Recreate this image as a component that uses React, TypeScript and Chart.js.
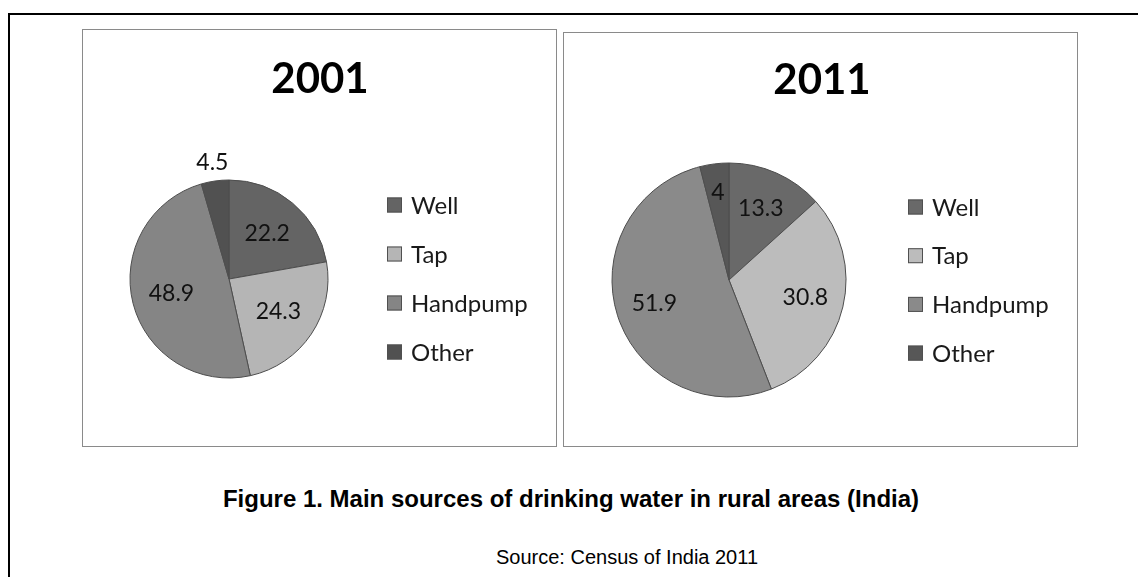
import React, { useEffect, useRef } from "react";
import { Chart, registerables } from "chart.js";

Chart.register(...registerables);

const categories = ["Well", "Tap", "Handpump", "Other"];
const values2001 = [22.2, 24.3, 48.9, 4.5];
const values2011 = [13.3, 30.8, 51.9, 4];
const years = ["2001", "2011"];
const colors2001 = ["#646464", "#b5b5b5", "#858585", "#515151"];
const colors2011 = ["#696969", "#bcbcbc", "#8a8a8a", "#575757"];
const captionText = "Figure 1. Main sources of drinking water in rural areas (India)";
const sourceText = "Source: Census of India 2011";

const FONT = "Lato, 'Open Sans', sans-serif";

const overlayPlugin = {
  id: "overlay",
  afterDatasetsDraw(chart: any, _args: any, opts: any) {
    const ctx = chart.ctx;
    const meta = chart.getDatasetMeta(0);
    const ds = chart.data.datasets[0];
    ctx.save();
    // slice value labels
    ctx.fillStyle = "#111";
    ctx.font = `${opts.labelSize}px ${FONT}`;
    ctx.textAlign = "center";
    ctx.textBaseline = "middle";
    meta.data.forEach((arc: any, i: number) => {
      const p = arc.getProps(["startAngle", "endAngle", "outerRadius", "x", "y"], true);
      const mid = (p.startAngle + p.endAngle) / 2;
      const v = ds.data[i];
      const r = v < opts.smallThreshold ? p.outerRadius * opts.smallFrac : p.outerRadius * opts.frac;
      ctx.fillText(String(v), p.x + Math.cos(mid) * r, p.y + Math.sin(mid) * r);
    });
    // title
    ctx.fillStyle = "#000";
    ctx.font = `bold ${opts.titleSize}px ${FONT}`;
    ctx.fillText(opts.title, opts.titleX, opts.titleY);
    // legend
    ctx.font = `${opts.legendSize}px ${FONT}`;
    ctx.textAlign = "left";
    const box = opts.box;
    chart.data.labels.forEach((lab: string, i: number) => {
      const yy = opts.legendY + i * opts.legendGap;
      ctx.fillStyle = ds.backgroundColor[i];
      ctx.fillRect(opts.legendX, yy - box / 2, box, box);
      ctx.strokeStyle = "#505050";
      ctx.lineWidth = 1;
      ctx.strokeRect(opts.legendX + 0.5, yy - box / 2 + 0.5, box - 1, box - 1);
      ctx.fillStyle = "#1a1a1a";
      ctx.fillText(lab, opts.legendX + box + 9, yy + 1);
    });
    ctx.restore();
  },
};

type PieProps = {
  values: number[];
  colors: string[];
  title: string;
  width: number;
  height: number;
  radius: number;
  padding: { left: number; top: number; right: number; bottom: number };
  overlay: any;
};

function PieChart(props: PieProps) {
  const ref = useRef<HTMLCanvasElement>(null);
  useEffect(() => {
    if (!ref.current) return;
    const chart = new Chart(ref.current, {
      type: "pie",
      data: {
        labels: categories,
        datasets: [
          {
            data: props.values,
            backgroundColor: props.colors,
            borderColor: "#4d4d4d",
            borderWidth: 1,
            radius: props.radius,
          } as any,
        ],
      },
      options: {
        responsive: false,
        animation: false,
        layout: { padding: props.padding },
        plugins: {
          legend: { display: false },
          tooltip: { enabled: false },
          title: { display: false },
          overlay: { title: props.title, ...props.overlay },
        } as any,
      },
      plugins: [overlayPlugin as any],
    });
    return () => chart.destroy();
  }, []);
  return (
    <canvas
      ref={ref}
      width={props.width}
      height={props.height}
      style={{ width: props.width, height: props.height, display: "block" }}
    />
  );
}

export default function App() {
  return (
    <div
      style={{
        position: "fixed",
        left: 0,
        top: 0,
        width: 1138,
        height: 577,
        overflow: "hidden",
        background: "#fff",
      }}
    >
      <div
        style={{
          position: "absolute",
          left: 8,
          top: 13,
          width: 1300,
          height: 700,
          borderLeft: "2px solid #000",
          borderTop: "2px solid #000",
        }}
      />
      <div
        style={{
          position: "absolute",
          left: 82,
          top: 29,
          width: 475,
          height: 418,
          boxSizing: "border-box",
          border: "1px solid #8a8a8a",
        }}
      >
        <PieChart
          values={values2001}
          colors={colors2001}
          title={years[0]}
          width={473}
          height={416}
          radius={99}
          padding={{ left: 47, top: 150, right: 228, bottom: 68 }}
          overlay={{
            labelSize: 23,
            frac: 0.6,
            smallThreshold: 5,
            smallFrac: 1.19,
            titleSize: 42,
            titleX: 237,
            titleY: 49,
            legendSize: 24,
            legendX: 304,
            legendY: 175,
            legendGap: 49,
            box: 15,
          }}
        />
      </div>
      <div
        style={{
          position: "absolute",
          left: 563,
          top: 32,
          width: 515,
          height: 415,
          boxSizing: "border-box",
          border: "1px solid #8a8a8a",
        }}
      >
        <PieChart
          values={values2011}
          colors={colors2011}
          title={years[1]}
          width={513}
          height={413}
          radius={117}
          padding={{ left: 48, top: 130, right: 231, bottom: 49 }}
          overlay={{
            labelSize: 23,
            frac: 0.67,
            smallThreshold: 5,
            smallFrac: 0.75,
            titleSize: 42,
            titleX: 258,
            titleY: 47,
            legendSize: 24,
            legendX: 344,
            legendY: 174,
            legendGap: 48.7,
            box: 15,
          }}
        />
      </div>
      <div
        style={{
          position: "absolute",
          left: 0,
          top: 487,
          width: 1142,
          textAlign: "center",
          fontFamily: "'Liberation Sans', Arial, sans-serif",
          fontWeight: "bold",
          fontSize: 24,
          lineHeight: "24px",
          color: "#000",
          whiteSpace: "nowrap",
        }}
      >
        {captionText}
      </div>
      <div
        style={{
          position: "absolute",
          left: 0,
          top: 547,
          width: 1254,
          textAlign: "center",
          fontFamily: "'Liberation Sans', Arial, sans-serif",
          fontSize: 20,
          lineHeight: "20px",
          color: "#000",
          whiteSpace: "nowrap",
        }}
      >
        {sourceText}
      </div>
    </div>
  );
}
